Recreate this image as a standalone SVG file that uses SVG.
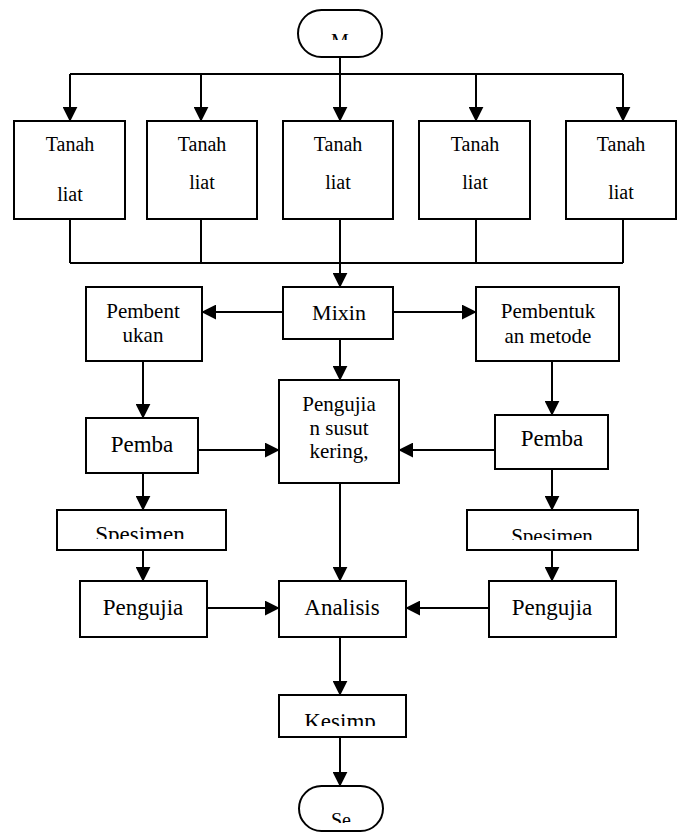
<svg xmlns="http://www.w3.org/2000/svg" width="681" height="832" viewBox="0 0 681 832">
<style>
.box{fill:#fff;stroke:#000;stroke-width:2}
.ln{fill:none;stroke:#000;stroke-width:2}
.ar{fill:none;stroke:#000;stroke-width:2;marker-end:url(#ah)}
.t{font-family:'Liberation Serif','Times New Roman','DejaVu Serif',serif;fill:#000;text-anchor:middle}
</style>
<defs>
<marker id="ah" viewBox="0 0 10 10" refX="9.5" refY="5" markerWidth="15" markerHeight="15" markerUnits="userSpaceOnUse" orient="auto"><path d="M0,0 L10,5 L0,10 z" fill="#000"/></marker>
<clipPath id="cM"><rect x="298" y="10" width="84" height="30"/></clipPath>
<clipPath id="cSL"><rect x="57" y="510" width="169" height="29"/></clipPath>
<clipPath id="cSR"><rect x="467" y="510" width="171" height="30"/></clipPath>
<clipPath id="cK"><rect x="279" y="695" width="127" height="31"/></clipPath>
<clipPath id="cE"><rect x="299" y="786" width="84" height="37"/></clipPath>
</defs>
<g id="connectors">
<line class="ln" x1="340" y1="57" x2="340" y2="74"/>
<line class="ln" x1="70" y1="74" x2="623" y2="74"/>
<line class="ar" x1="70" y1="74" x2="70" y2="121"/>
<line class="ar" x1="201" y1="74" x2="201" y2="121"/>
<line class="ar" x1="340" y1="74" x2="340" y2="121"/>
<line class="ar" x1="476" y1="74" x2="476" y2="121"/>
<line class="ar" x1="623" y1="74" x2="623" y2="121"/>
<line class="ln" x1="70" y1="219" x2="70" y2="263"/>
<line class="ln" x1="201" y1="219" x2="201" y2="263"/>
<line class="ln" x1="340" y1="219" x2="340" y2="263"/>
<line class="ln" x1="476" y1="219" x2="476" y2="263"/>
<line class="ln" x1="623" y1="219" x2="623" y2="263"/>
<line class="ln" x1="70" y1="263" x2="623" y2="263"/>
<line class="ar" x1="340" y1="263" x2="340" y2="287"/>
<line class="ar" x1="283" y1="312" x2="202" y2="312"/>
<line class="ar" x1="393" y1="312" x2="476" y2="312"/>
<line class="ar" x1="340" y1="339" x2="340" y2="380"/>
<line class="ar" x1="143" y1="361" x2="143" y2="418"/>
<line class="ar" x1="552" y1="361" x2="552" y2="415"/>
<line class="ar" x1="198" y1="450" x2="279" y2="450"/>
<line class="ar" x1="495" y1="450" x2="399" y2="450"/>
<line class="ar" x1="143" y1="473" x2="143" y2="510"/>
<line class="ar" x1="552" y1="469" x2="552" y2="510"/>
<line class="ar" x1="143" y1="550" x2="143" y2="581"/>
<line class="ar" x1="552" y1="550" x2="552" y2="581"/>
<line class="ar" x1="340" y1="483" x2="340" y2="581"/>
<line class="ar" x1="207" y1="608" x2="279" y2="608"/>
<line class="ar" x1="489" y1="608" x2="406" y2="608"/>
<line class="ar" x1="340" y1="637" x2="340" y2="695"/>
<line class="ar" x1="340" y1="737" x2="340" y2="786"/>
</g>
<g id="start"><rect class="box" x="298" y="10" width="84" height="47" rx="23.5"/><text class="t" x="340" y="48" font-size="20" clip-path="url(#cM)">M</text></g>
<g id="tanah1"><rect class="box" x="14" y="121" width="111" height="98"/><text class="t" x="70" y="151" font-size="20">Tanah</text><text class="t" x="70" y="201" font-size="20">liat</text></g>
<g id="tanah2"><rect class="box" x="147" y="121" width="110" height="98"/><text class="t" x="202" y="151" font-size="20">Tanah</text><text class="t" x="202" y="189" font-size="20">liat</text></g>
<g id="tanah3"><rect class="box" x="283" y="121" width="110" height="98"/><text class="t" x="338" y="151" font-size="20">Tanah</text><text class="t" x="338" y="189" font-size="20">liat</text></g>
<g id="tanah4"><rect class="box" x="419" y="121" width="111" height="98"/><text class="t" x="475" y="151" font-size="20">Tanah</text><text class="t" x="475" y="189" font-size="20">liat</text></g>
<g id="tanah5"><rect class="box" x="566" y="121" width="110" height="98"/><text class="t" x="621" y="151" font-size="20">Tanah</text><text class="t" x="621" y="199" font-size="20">liat</text></g>
<g id="mixin"><rect class="box" x="283" y="287" width="110" height="52"/><text class="t" x="339" y="320" font-size="22">Mixin</text></g>
<g id="pembentukan-l"><rect class="box" x="86" y="287" width="116" height="74"/><text class="t" x="143" y="318" font-size="21">Pembent</text><text class="t" x="143" y="342" font-size="21">ukan</text></g>
<g id="pembentukan-r"><rect class="box" x="476" y="287" width="143" height="74"/><text class="t" x="548" y="318" font-size="21">Pembentuk</text><text class="t" x="548" y="343" font-size="21">an metode</text></g>
<g id="pengujian-susut"><rect class="box" x="279" y="380" width="120" height="103"/><text class="t" x="339" y="411" font-size="21">Pengujia</text><text class="t" x="339" y="435" font-size="21">n susut</text><text class="t" x="339" y="458" font-size="21">kering,</text></g>
<g id="pemba-l"><rect class="box" x="86" y="418" width="112" height="55"/><text class="t" x="142" y="452" font-size="23">Pemba</text></g>
<g id="pemba-r"><rect class="box" x="495" y="415" width="113" height="54"/><text class="t" x="552" y="446" font-size="23">Pemba</text></g>
<g id="spesimen-l"><rect class="box" x="57" y="510" width="169" height="40"/><text class="t" x="140" y="542" font-size="23" clip-path="url(#cSL)">Spesimen</text></g>
<g id="spesimen-r"><rect class="box" x="467" y="510" width="171" height="40"/><text class="t" x="552" y="543" font-size="21" clip-path="url(#cSR)">Spesimen</text></g>
<g id="pengujia-l"><rect class="box" x="80" y="581" width="127" height="56"/><text class="t" x="143" y="615" font-size="23">Pengujia</text></g>
<g id="analisis"><rect class="box" x="279" y="581" width="127" height="56"/><text class="t" x="342" y="615" font-size="23">Analisis</text></g>
<g id="pengujia-r"><rect class="box" x="489" y="581" width="127" height="56"/><text class="t" x="552" y="615" font-size="23">Pengujia</text></g>
<g id="kesimpulan"><rect class="box" x="279" y="695" width="127" height="42"/><text class="t" x="340" y="729" font-size="23" clip-path="url(#cK)">Kesimp</text></g>
<g id="end"><rect class="box" x="299" y="786" width="84" height="45" rx="22.5"/><text class="t" x="341" y="827" font-size="20" clip-path="url(#cE)">Se</text></g>
</svg>
